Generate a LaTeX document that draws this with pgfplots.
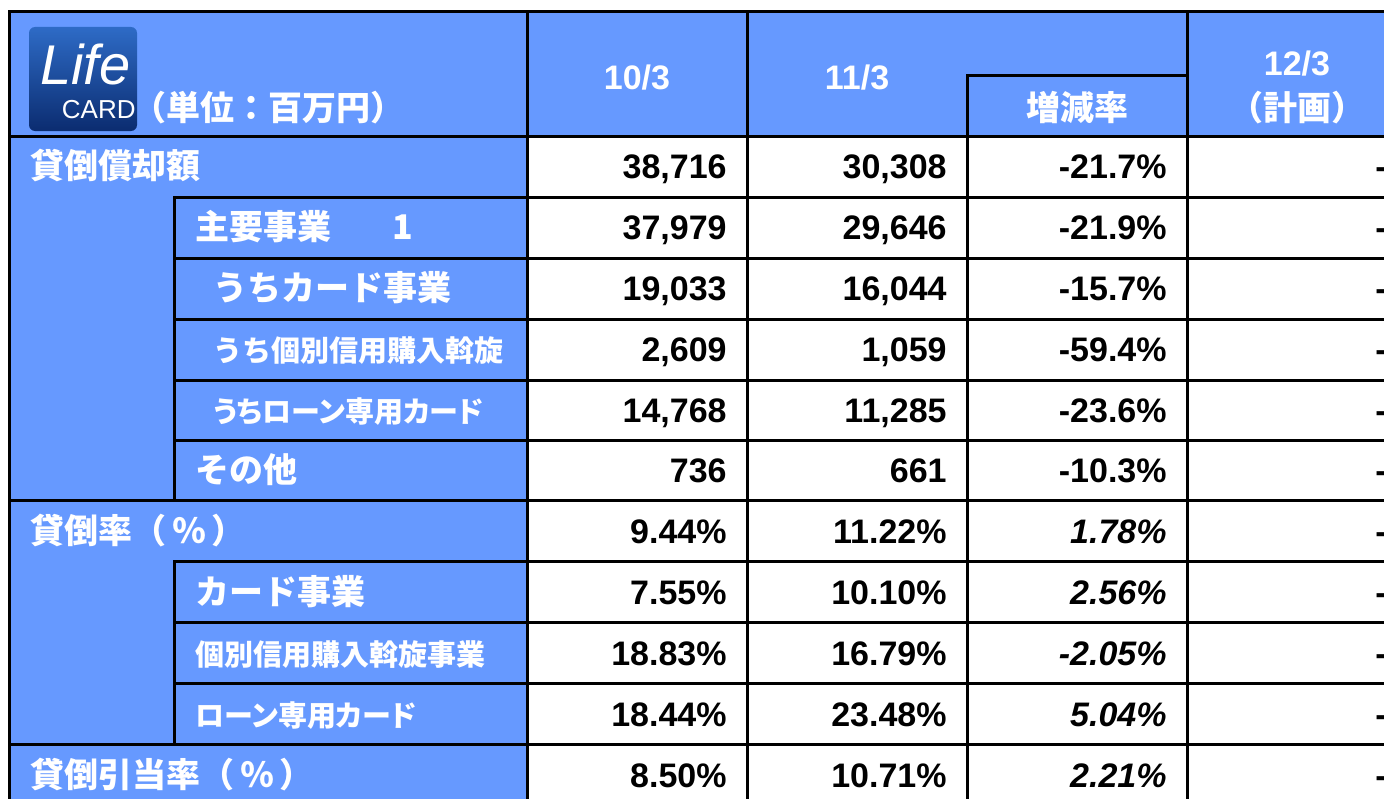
\documentclass[border=0pt]{standalone}
\usepackage{fontspec}
\setmainfont{Liberation Sans}
\newfontfamily\jp{Noto Sans CJK JP}
\newfontfamily\jpp{Noto Sans CJK JP}[RawFeature=+palt]
\usepackage{pgfplots}
\usepackage{pgfplotstable}
\pgfplotsset{compat=1.18}
\definecolor{cellblue}{HTML}{6699FF}
\definecolor{logoA}{HTML}{0B2C70}
\definecolor{logoB}{HTML}{2E6BC6}
\newcommand{\fa}{\fontsize{17bp}{20bp}\selectfont}
\newcommand{\fb}{\fontsize{14.5bp}{17bp}\selectfont}

% one table per column: baseline y (pixels from top), text
\pgfplotstableread{
y v
178 38,716
239 37,979
300 19,033
361 2,609
422 14,768
482 736
543 9.44\%
604 7.55\%
665 18.83\%
726 18.44\%
787 8.50\%
}\colA
\pgfplotstableread{
y v
178 30,308
239 29,646
300 16,044
361 1,059
422 11,285
482 661
543 11.22\%
604 10.10\%
665 16.79\%
726 23.48\%
787 10.71\%
}\colB
\pgfplotstableread{
y v
178 -21.7\%
239 -21.9\%
300 -15.7\%
361 -59.4\%
422 -23.6\%
482 -10.3\%
}\colC
\pgfplotstableread{
y v
543 1.78\%
604 2.56\%
665 -2.05\%
726 5.04\%
787 2.21\%
}\colCi
\pgfplotstableread{
y v
178 -
239 -
300 -
361 -
422 -
482 -
543 -
604 -
665 -
726 -
787 -
}\colD

\begin{document}
\begin{tikzpicture}
\begin{axis}[
  width=692bp, height=399.5bp, scale only axis,
  xmin=0, xmax=1384, ymin=0, ymax=799, y dir=reverse,
  hide axis, clip=false,
  point meta=explicit symbolic,
  every node near coord/.append style={anchor=base east, inner sep=0pt, text=black, font=\fa\bfseries},
]
% backgrounds
\fill[cellblue] (9,12) rectangle (1384,136);
\fill[cellblue] (9,136) rectangle (527,799);
\fill[white] (527,136) rectangle (1384,799);
% logo
\shade[top color=logoB, bottom color=logoA, rounded corners=3bp] (29,27) rectangle (137,131);
\node[anchor=base west, inner sep=0pt, text=white, font=\fontsize{28bp}{28bp}\selectfont\itshape] at (40,84) {Life};
\node[anchor=base east, inner sep=0pt, text=white, font=\fontsize{13bp}{13bp}\selectfont] at (136,118) {CARD};
% header text
\begin{scope}[every node/.style={inner sep=0pt, text=white, font=\fa\bfseries}]
\node[anchor=base west, font=\jp\fa\bfseries] at (132,120) {（単位：百万円）};
\node[anchor=base] at (637,89) {10/3};
\node[anchor=base] at (857,89) {11/3};
\node[anchor=base, font=\jp\fa\bfseries] at (1077,120) {増減率};
\node[anchor=base] at (1297,75) {12/3};
\node[anchor=base, font=\jp\fa\bfseries] at (1297,120) {（計画）};
\end{scope}
% row labels
\begin{scope}[every node/.style={inner sep=0pt, text=white, anchor=base west, font=\jp\fa\bfseries}]
\node at (30,178) {貸倒償却額};
\node at (195,239) {主要事業};
\node at (392,239) {1};
\node at (213,300) {うちカード事業};
\node[font=\jp\fb\bfseries] at (213,361) {うち個別信用購入斡旋};
\node[font=\jpp\fb\bfseries] at (213,422) {うちローン専用カード};
\node at (195,482) {その他};
\node at (30,543) {貸倒率（\,％\,）};
\node at (195,604) {カード事業};
\node[font=\jp\fb\bfseries] at (195,665) {個別信用購入斡旋事業};
\node[font=\jpp\fb\bfseries] at (195,726) {ローン専用カード};
\node at (30,787) {貸倒引当率（\,％\,）};
\end{scope}
% values
\addplot[only marks, mark=none, nodes near coords] table[x expr=727, y=y, meta=v] {\colA};
\addplot[only marks, mark=none, nodes near coords] table[x expr=947, y=y, meta=v] {\colB};
\addplot[only marks, mark=none, nodes near coords] table[x expr=1167, y=y, meta=v] {\colC};
\addplot[only marks, mark=none, nodes near coords, every node near coord/.append style={font=\fa\bfseries\itshape}] table[x expr=1167, y=y, meta=v] {\colCi};
\addplot[only marks, mark=none, nodes near coords] table[x expr=1387, y=y, meta=v] {\colD};
% grid lines
\draw[line width=1.5bp, line cap=rect]
  (9,12) -- (1384,12)
  (967,76) -- (1187,76)
  (9,136) -- (1384,136)
  (174,197) -- (1384,197)
  (174,258) -- (1384,258)
  (174,319) -- (1384,319)
  (174,380) -- (1384,380)
  (174,440) -- (1384,440)
  (9,500) -- (1384,500)
  (174,561) -- (1384,561)
  (174,622) -- (1384,622)
  (174,683) -- (1384,683)
  (9,744) -- (1384,744)
  (9,12) -- (9,799)
  (527,12) -- (527,799)
  (747,12) -- (747,799)
  (967,76) -- (967,799)
  (1187,12) -- (1187,799)
  (174,197) -- (174,500)
  (174,561) -- (174,744);
\end{axis}
\pgfresetboundingbox
\path[use as bounding box] (current axis.south west) rectangle (current axis.north east);
\end{tikzpicture}
\end{document}
